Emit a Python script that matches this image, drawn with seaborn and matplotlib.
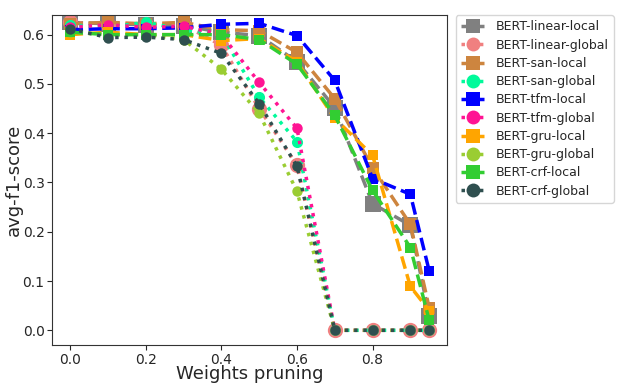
import pandas as pd
import matplotlib
matplotlib.use("Agg")
import matplotlib.pyplot as plt
import seaborn as sns

sns.set_style("ticks")
plt.rcParams['font.family'] = ['DejaVu Sans']

PRUNING = [0.0, 0.1, 0.2, 0.3, 0.4, 0.5, 0.6, 0.7, 0.8, 0.9, 0.95]

LINEAR_LOCAL = [0.625, 0.622, 0.620, 0.618, 0.605, 0.598, 0.545, 0.452, 0.257, 0.213, 0.030]
LINEAR_GLOBAL = [0.625, 0.620, 0.620, 0.620, 0.578, 0.450, 0.335, 0.0, 0.0, 0.0, 0.0]
SAN_LOCAL = [0.622, 0.625, 0.622, 0.625, 0.610, 0.608, 0.564, 0.470, 0.330, 0.215, 0.045]
SAN_GLOBAL = [0.620, 0.615, 0.625, 0.610, 0.600, 0.473, 0.383, 0.0, 0.0, 0.0, 0.0]
TFM_LOCAL = [0.610, 0.612, 0.612, 0.614, 0.621, 0.623, 0.598, 0.507, 0.308, 0.276, 0.120]
TFM_GLOBAL = [0.615, 0.620, 0.615, 0.617, 0.600, 0.503, 0.410, 0.0, 0.0, 0.0, 0.0]
GRU_LOCAL = [0.600, 0.605, 0.600, 0.600, 0.588, 0.592, 0.545, 0.430, 0.355, 0.089, 0.040]
GRU_GLOBAL = [0.605, 0.600, 0.600, 0.590, 0.530, 0.440, 0.282, 0.0, 0.0, 0.0, 0.0]
CRF_LOCAL = [0.605, 0.600, 0.600, 0.600, 0.600, 0.590, 0.540, 0.436, 0.284, 0.168, 0.020]
CRF_GLOBAL = [0.612, 0.594, 0.595, 0.590, 0.562, 0.460, 0.333, 0.0, 0.0, 0.0, 0.0]

SERIES = [
    ('BERT-linear-local', LINEAR_LOCAL, 'grey', 's', '--', 12),
    ('BERT-linear-global', LINEAR_GLOBAL, 'lightcoral', 'o', ':', 11),
    ('BERT-san-local', SAN_LOCAL, 'peru', 's', '--', 9),
    ('BERT-san-global', SAN_GLOBAL, 'mediumspringgreen', 'o', ':', 8),
    ('BERT-tfm-local', TFM_LOCAL, 'blue', 's', '--', 7.5),
    ('BERT-tfm-global', TFM_GLOBAL, 'deeppink', 'o', ':', 7.5),
    ('BERT-gru-local', GRU_LOCAL, 'orange', 's', '--', 7),
    ('BERT-gru-global', GRU_GLOBAL, 'yellowgreen', 'o', ':', 7.5),
    ('BERT-crf-local', CRF_LOCAL, 'limegreen', 's', '--', 7.5),
    ('BERT-crf-global', CRF_GLOBAL, 'darkslategray', 'o', ':', 7.5),
]


def main():
    fig = plt.figure(figsize=(6.22, 3.83), dpi=100)
    ax = fig.add_axes([0.084, 0.099, 0.635, 0.862])

    for name, values, color, marker, ls, ms in SERIES:
        df = pd.DataFrame({'x': PRUNING, 'y': values})
        sns.lineplot(data=df, x='x', y='y', ax=ax, color=color, marker=marker,
                     linestyle=ls, linewidth=2.5, markersize=ms,
                     markeredgewidth=0, label=name)

    ax.set_xlabel('Weights pruning', fontsize=13, labelpad=-1)
    ax.set_ylabel('avg-f1-score', fontsize=13, labelpad=0)
    ax.set_xticks([0.0, 0.2, 0.4, 0.6, 0.8])
    ax.set_yticks([0.0, 0.1, 0.2, 0.3, 0.4, 0.5, 0.6])
    ax.tick_params(labelsize=10, pad=2)
    ax.set_ylim(-0.03, 0.64)

    for s in ax.spines.values():
        s.set_visible(True)
        s.set_color('#333333')

    leg = ax.legend(loc='upper left', bbox_to_anchor=(1.012, 1.01), fontsize=9,
                    frameon=True, borderaxespad=0.3, handlelength=1.9,
                    handletextpad=0.9, labelspacing=0.42)
    for h in leg.legend_handles:
        h.set_markersize(10)

    fig.savefig('out.png', dpi=100, facecolor='white')
    plt.close(fig)


if __name__ == "__main__":
    main()
